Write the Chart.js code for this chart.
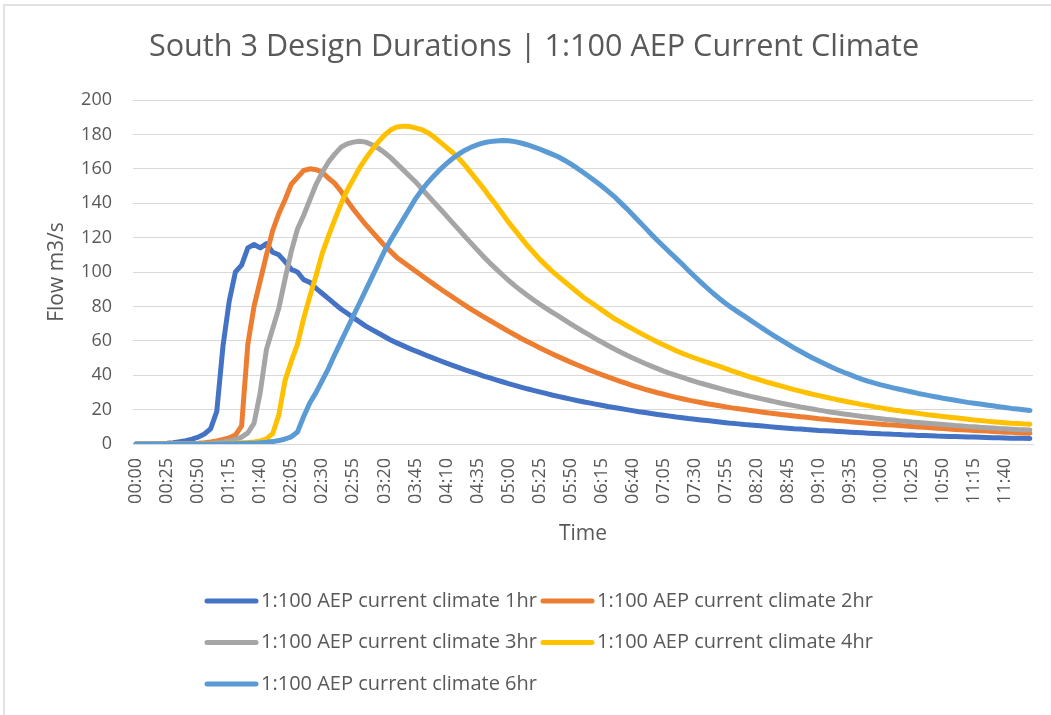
<!DOCTYPE html>
<html>
<head>
<meta charset="utf-8">
<title>South 3 Design Durations</title>
<script src="https://cdn.jsdelivr.net/npm/chart.js@4.4.1/dist/chart.umd.min.js"></script>
<style>
    html, body { margin: 0; padding: 0; background: #ffffff; }
    #wrap { width: 1051px; height: 715px; position: relative; }
</style>
</head>
<body>
<div id="wrap"><canvas id="myLineChart" width="1051" height="715"></canvas></div>
<script>
// hydrograph ordinates, one every 5 minutes from 00:00 to 12:00 (m3/s)
const flow1hr = [
    0, 0, 0, 0.1, 0.2, 0.4, 0.8, 1.3, 1.9, 2.8,
    4.0, 5.8, 8.8, 19, 57, 83, 100, 104, 114, 116,
    114, 116.5, 111.5, 110, 106, 101.5, 100, 95.5, 94, 90.5,
    87.5, 84.5, 81.5, 78.5, 76, 73.5, 71, 68.5, 66.5, 64.5,
    62.5, 60.5, 58.8, 57.2, 55.6, 54.1, 52.7, 51.2, 49.8, 48.4,
    47.0, 45.7, 44.4, 43.1, 41.9, 40.7, 39.5, 38.4, 37.3, 36.2,
    35.1, 34.1, 33.1, 32.1, 31.2, 30.3, 29.4, 28.5, 27.7, 26.9,
    26.1, 25.3, 24.6, 23.9, 23.2, 22.5, 21.8, 21.2, 20.6, 20.0,
    19.4, 18.8, 18.3, 17.7, 17.2, 16.7, 16.2, 15.7, 15.3, 14.8,
    14.4, 14.0, 13.6, 13.2, 12.8, 12.4, 12.0, 11.7, 11.3, 11.0,
    10.7, 10.4, 10.1, 9.8, 9.5, 9.2, 8.9, 8.7, 8.4, 8.2,
    7.9, 7.7, 7.5, 7.3, 7.1, 6.9, 6.7, 6.5, 6.3, 6.1,
    5.9, 5.8, 5.6, 5.5, 5.3, 5.2, 5.0, 4.9, 4.8, 4.6,
    4.5, 4.4, 4.3, 4.2, 4.1, 4.0, 3.9, 3.8, 3.7, 3.6,
    3.5, 3.4, 3.3, 3.3, 3.2
];
const flow2hr = [
    0, 0, 0, 0, 0, 0, 0, 0.1, 0.2, 0.3,
    0.5, 0.8, 1.2, 1.8, 2.6, 3.6, 5.2, 10.5, 58, 80,
    95, 110, 124, 134, 142, 151, 155, 159, 160, 159.5,
    158, 154.5, 151.5, 147, 141.5, 136.5, 132, 127.5, 123.5, 119.5,
    115.5, 112, 108.5, 105.8, 103.2, 100.6, 98, 95.4, 92.8, 90.3,
    87.8, 85.4, 83.0, 80.6, 78.3, 76.1, 73.9, 71.8, 69.7, 67.6,
    65.5, 63.5, 61.5, 59.6, 57.8, 56.0, 54.2, 52.5, 50.8, 49.2,
    47.6, 46.1, 44.6, 43.1, 41.7, 40.3, 39.0, 37.7, 36.4, 35.2,
    34.0, 32.9, 31.8, 30.8, 29.8, 28.9, 28.0, 27.1, 26.3, 25.5,
    24.8, 24.1, 23.4, 22.8, 22.2, 21.6, 21.0, 20.5, 20.0, 19.5,
    19.0, 18.5, 18.0, 17.6, 17.1, 16.7, 16.3, 15.9, 15.5, 15.1,
    14.7, 14.4, 14.0, 13.7, 13.4, 13.0, 12.7, 12.4, 12.1, 11.8,
    11.5, 11.2, 11.0, 10.7, 10.4, 10.2, 9.9, 9.7, 9.4, 9.2,
    9.0, 8.7, 8.5, 8.3, 8.1, 7.9, 7.7, 7.5, 7.3, 7.1,
    6.9, 6.8, 6.6, 6.4, 6.3
];
const flow3hr = [
    0, 0, 0, 0, 0, 0, 0, 0, 0, 0.1,
    0.2, 0.3, 0.5, 0.8, 1.2, 1.8, 2.6, 4.0, 6.5, 12,
    30, 55, 67, 79, 96, 112, 125, 133, 142, 151,
    158, 164, 168.5, 172.5, 174.5, 175.5, 176, 175.5, 174, 172,
    169.5, 166.5, 163, 159.5, 156, 152.5, 148.5, 144.5, 140.5, 136.6,
    132.6, 128.6, 124.6, 120.6, 116.6, 112.7, 108.9, 105.2, 101.8, 98.4,
    95.2, 92.1, 89.2, 86.5, 83.9, 81.4, 79.0, 76.7, 74.5, 72.2,
    69.9, 67.7, 65.5, 63.4, 61.3, 59.3, 57.3, 55.4, 53.5, 51.7,
    50.0, 48.4, 46.8, 45.3, 43.8, 42.4, 41.1, 39.9, 38.7, 37.5,
    36.4, 35.3, 34.3, 33.3, 32.3, 31.3, 30.4, 29.5, 28.6, 27.7,
    26.9, 26.1, 25.3, 24.5, 23.7, 23.0, 22.3, 21.6, 20.9, 20.3,
    19.7, 19.1, 18.5, 18.0, 17.5, 17.0, 16.5, 16.0, 15.6, 15.1,
    14.7, 14.3, 13.9, 13.5, 13.2, 12.8, 12.5, 12.2, 11.9, 11.6,
    11.3, 11.0, 10.7, 10.5, 10.2, 10.0, 9.7, 9.5, 9.3, 9.0,
    8.8, 8.6, 8.4, 8.3, 8.1
];
const flow4hr = [
    0, 0, 0, 0, 0, 0, 0, 0, 0, 0,
    0, 0.1, 0.1, 0.2, 0.3, 0.4, 0.5, 0.7, 0.9, 1.2,
    1.8, 3.0, 6, 17, 37, 48, 58, 73, 86, 98,
    111, 121, 130.5, 139.5, 147.5, 154, 160.5, 166, 171, 175.5,
    179.5, 182.5, 184.3, 184.8, 184.6, 183.8, 182.8, 181, 178.5, 175.5,
    172.5, 169.5, 166, 162, 157.5, 153, 148.5, 143.5, 139, 134,
    129, 124.5, 120, 115.5, 111.5, 107.5, 104, 100.5, 97.5, 94.5,
    91.5, 88.5, 85.5, 83, 80.5, 78, 75.5, 73, 71, 68.9,
    66.9, 64.9, 63.0, 61.1, 59.3, 57.6, 55.9, 54.2, 52.7, 51.3,
    50.0, 48.7, 47.5, 46.3, 45.1, 43.8, 42.5, 41.3, 40.1, 38.9,
    37.8, 36.7, 35.6, 34.6, 33.6, 32.6, 31.6, 30.7, 29.8, 28.9,
    28.1, 27.3, 26.5, 25.7, 25.0, 24.3, 23.6, 22.9, 22.3, 21.6,
    21.0, 20.4, 19.8, 19.3, 18.8, 18.3, 17.8, 17.3, 16.8, 16.4,
    16.0, 15.6, 15.2, 14.8, 14.4, 14.0, 13.7, 13.3, 13.0, 12.7,
    12.4, 12.1, 11.9, 11.7, 11.5
];
const flow6hr = [
    0, 0, 0, 0, 0, 0, 0, 0, 0, 0,
    0, 0, 0, 0, 0.1, 0.1, 0.2, 0.3, 0.4, 0.5,
    0.7, 1.0, 1.4, 2.0, 2.9, 4.2, 7, 16, 24, 30,
    37, 44, 52, 59.5, 67, 74.5, 82, 89.5, 97, 104.5,
    112, 118.5, 124.5, 130.5, 136.5, 142.5, 147.5, 152, 156, 159.7,
    163, 166, 168.6, 170.8, 172.6, 174, 175.1, 175.8, 176.2, 176.4,
    176.3, 175.8, 175, 174, 172.8, 171.5, 170, 168.5, 167, 165,
    162.8, 160.5, 158, 155.4, 152.7, 150, 147, 144, 140.5, 137,
    133.3, 129.5, 125.8, 122, 118.3, 114.8, 111.3, 107.9, 104.5, 100.8,
    97.4, 94, 90.7, 87.5, 84.5, 81.7, 79.1, 76.7, 74.3, 71.9,
    69.5, 67.1, 64.7, 62.4, 60.2, 58.0, 55.9, 53.9, 51.9, 50.0,
    48.2, 46.5, 44.8, 43.2, 41.7, 40.3, 38.9, 37.6, 36.4, 35.4,
    34.4, 33.5, 32.6, 31.8, 31.0, 30.2, 29.4, 28.7, 28.0, 27.3,
    26.6, 26.0, 25.4, 24.8, 24.2, 23.7, 23.2, 22.7, 22.2, 21.7,
    21.2, 20.7, 20.3, 19.9, 19.5
];

const seriesNames = [
    '1:100 AEP current climate 1hr',
    '1:100 AEP current climate 2hr',
    '1:100 AEP current climate 3hr',
    '1:100 AEP current climate 4hr',
    '1:100 AEP current climate 6hr'
];
const seriesColors = ['#4472C4', '#ED7D31', '#A5A5A5', '#FFC000', '#5B9BD5'];
const yTicks = { min: 0, max: 200, step: 20 };
const labelEvery = 5;

// time-of-day categories, 5 minute step
const timeLabels = [];
for (let m = 0; m < flow1hr.length * 5; m += 5) {
    const hh = String(Math.floor(m / 60)).padStart(2, '0');
    const mm = String(m % 60).padStart(2, '0');
    timeLabels.push(hh + ':' + mm);
}

const TEXT = '#595959';
const FONT = '"Open Sans", "Liberation Sans", sans-serif';
Chart.defaults.font.family = FONT;
Chart.defaults.color = TEXT;

// white sheet, thin frame, title and a two-column legend
const chartFrame = {
    id: 'chartFrame',
    beforeDraw(chart) {
        const ctx = chart.ctx;
        ctx.save();
        ctx.fillStyle = '#ffffff';
        ctx.fillRect(0, 0, chart.width, chart.height);
        ctx.strokeStyle = '#D9D9D9';
        ctx.lineWidth = 1.5;
        ctx.beginPath();
        ctx.moveTo(4, chart.height);
        ctx.lineTo(4, 5);
        ctx.lineTo(chart.width, 5);
        ctx.stroke();
        ctx.restore();
    },
    afterDraw(chart) {
        const ctx = chart.ctx;
        ctx.save();
        ctx.fillStyle = TEXT;
        ctx.textAlign = 'center';
        ctx.textBaseline = 'middle';
        ctx.font = '30.6px ' + FONT;
        ctx.fillText('South 3 Design Durations | 1:100 AEP Current Climate', 534, 47);

        ctx.textAlign = 'left';
        ctx.font = '20px ' + FONT;
        ctx.lineCap = 'round';
        ctx.lineWidth = 5;
        chart.data.datasets.forEach((ds, i) => {
            const x = 205 + (i % 2) * 336;
            const y = 601 + Math.floor(i / 2) * 41.5;
            ctx.strokeStyle = ds.borderColor;
            ctx.beginPath();
            ctx.moveTo(x + 2, y);
            ctx.lineTo(x + 51, y);
            ctx.stroke();
            ctx.fillText(ds.label, x + 56, y);
        });
        ctx.restore();
    }
};

const flows = [flow1hr, flow2hr, flow3hr, flow4hr, flow6hr];

const config = {
    type: 'line',
    data: {
        labels: timeLabels,
        datasets: flows.map((data, i) => ({
            label: seriesNames[i],
            data: data,
            borderColor: seriesColors[i],
            backgroundColor: seriesColors[i],
            borderWidth: 5,
            pointRadius: 0,
            tension: 0,
            fill: false,
            borderJoinStyle: 'round',
            borderCapStyle: 'round',
            order: flows.length - i
        }))
    },
    options: {
        responsive: false,
        animation: false,
        devicePixelRatio: 1,
        layout: { padding: { left: 4, right: 18, top: 100, bottom: 155 } },
        plugins: {
            legend: { display: false },
            title: { display: false },
            tooltip: { enabled: false }
        },
        scales: {
            x: {
                offset: true,
                grid: { display: false, drawTicks: false },
                border: { display: true, color: '#D9D9D9', width: 1 },
                ticks: {
                    autoSkip: false,
                    minRotation: 90,
                    maxRotation: 90,
                    padding: 14,
                    font: { size: 18 },
                    callback(value, index) {
                        return index % labelEvery === 0 ? this.getLabelForValue(value) : '';
                    }
                },
                title: {
                    display: true,
                    text: 'Time',
                    font: { size: 21 },
                    padding: { top: 0, bottom: 13 }
                },
                afterFit(scale) {
                    scale.height = 116;
                    scale.paddingLeft = 0;
                    scale.paddingRight = 0;
                }
            },
            y: {
                min: yTicks.min,
                max: yTicks.max,
                grid: { color: '#D9D9D9', lineWidth: 1, drawTicks: false },
                border: { display: false },
                ticks: { stepSize: yTicks.step, padding: 21, font: { size: 18 } },
                title: {
                    display: true,
                    text: 'Flow m3/s',
                    font: { size: 21 },
                    padding: { top: 40, bottom: 0 }
                },
                afterFit(scale) {
                    scale.width = 129;
                    scale.paddingTop = 0;
                    scale.paddingBottom = 0;
                }
            }
        }
    },
    plugins: [chartFrame]
};

new Chart(document.querySelector('#myLineChart'), config);
</script>
</body>
</html>
